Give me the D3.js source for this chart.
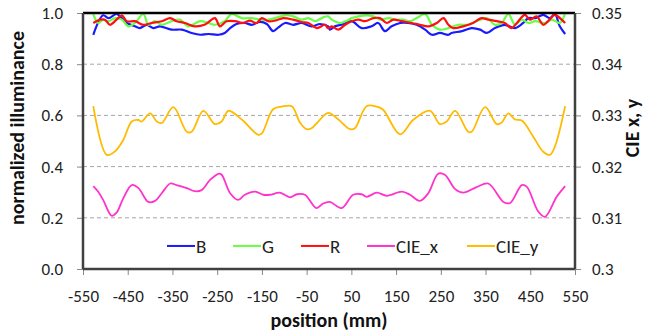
<!DOCTYPE html>
<html>
<head>
<meta charset="utf-8">
<script src="https://cdn.jsdelivr.net/npm/d3@7"></script>
<style>
  body { margin: 0; background: #fff; }
  #chart { width: 652px; height: 332px; }
  text { font-family: Carlito, Lato, 'Open Sans', sans-serif; }
</style>
</head>
<body>
<div id="chart"></div>
<script>
// position (mm) / normalized illuminance
const bPos = [-527, -505, -493, -475, -463, -452, -434, -423, -408, -393, -378, -352, -329, -307, -288, -270, -247, -233, -221, -207, -188, -173, -154, -139, -125, -113, -98, -80, -61, -39, -20, -2, 2, 13, 28, 51, 73, 95, 110, 125, 140, 159, 177, 196, 215, 230, 248, 267, 274, 297, 319, 338, 353, 371, 393, 416, 434, 446, 461, 479, 494, 505, 516, 528];
const bVals = [0.915, 0.991, 0.980, 0.996, 0.980, 0.961, 0.948, 0.941, 0.954, 0.941, 0.948, 0.935, 0.935, 0.922, 0.915, 0.918, 0.915, 0.922, 0.941, 0.957, 0.961, 0.954, 0.965, 0.957, 0.929, 0.944, 0.961, 0.954, 0.961, 0.948, 0.957, 0.948, 0.935, 0.948, 0.954, 0.968, 0.941, 0.948, 0.961, 0.929, 0.948, 0.961, 0.961, 0.954, 0.935, 0.915, 0.922, 0.915, 0.922, 0.929, 0.941, 0.935, 0.922, 0.941, 0.954, 0.941, 0.961, 0.980, 0.980, 0.993, 0.980, 0.996, 0.948, 0.918];

const gPos = [-527, -516, -505, -493, -478, -463, -449, -434, -415, -404, -389, -374, -352, -333, -315, -288, -270, -255, -233, -218, -195, -173, -154, -136, -121, -98, -80, -61, -46, -31, -13, -2, 6, 25, 40, 51, 66, 84, 99, 114, 133, 148, 166, 181, 196, 215, 230, 248, 267, 289, 311, 330, 353, 371, 386, 401, 416, 431, 446, 461, 483, 498, 516, 528];
const gVals = [0.996, 0.961, 0.974, 0.968, 0.980, 0.974, 0.948, 0.961, 0.996, 0.954, 0.968, 0.954, 0.968, 0.974, 0.948, 0.968, 0.961, 0.954, 0.968, 0.996, 0.980, 0.980, 0.974, 0.974, 0.980, 0.991, 0.987, 0.974, 0.980, 0.968, 0.983, 0.987, 0.974, 0.961, 0.970, 0.980, 0.987, 0.991, 0.987, 0.974, 0.980, 0.974, 0.974, 0.968, 0.980, 0.996, 0.954, 0.935, 0.941, 0.954, 0.954, 0.968, 0.980, 0.954, 0.961, 0.996, 0.954, 0.974, 0.961, 0.968, 0.961, 0.974, 0.961, 1.000];

const rPos = [-527, -512, -501, -490, -475, -463, -452, -434, -415, -396, -374, -355, -341, -322, -300, -277, -255, -244, -229, -210, -192, -177, -162, -150, -136, -121, -102, -80, -61, -46, -27, -9, -2, 6, 21, 36, 51, 66, 81, 99, 114, 129, 144, 163, 185, 203, 222, 241, 256, 267, 278, 300, 322, 341, 356, 375, 393, 408, 420, 438, 449, 464, 479, 490, 505, 520, 528];
const rVals = [0.961, 0.974, 0.974, 0.954, 0.974, 0.991, 0.968, 0.968, 0.954, 0.961, 0.968, 0.980, 0.968, 0.961, 0.948, 0.955, 0.980, 0.948, 0.968, 0.968, 0.961, 0.970, 0.961, 0.980, 0.968, 0.970, 0.980, 0.974, 0.965, 0.961, 0.941, 0.954, 0.941, 0.948, 0.935, 0.954, 0.968, 0.974, 0.968, 0.980, 0.980, 0.961, 0.974, 0.968, 0.961, 0.954, 0.948, 0.961, 0.980, 0.954, 0.941, 0.948, 0.961, 0.980, 0.974, 0.968, 0.961, 0.941, 0.961, 0.993, 0.974, 0.987, 0.954, 0.968, 0.993, 0.974, 0.961];

// CIE chromaticity (right axis)
const cxPos = [-527, -516, -505, -486, -475, -460, -441, -426, -404, -389, -374, -355, -341, -318, -300, -285, -266, -247, -240, -221, -203, -188, -165, -147, -132, -110, -87, -72, -54, -28, -13, 2, 28, 54, 73, 84, 107, 129, 163, 181, 203, 222, 244, 259, 282, 300, 330, 356, 390, 405, 431, 442, 468, 483, 509, 528];
const cxVals = [0.3162, 0.3151, 0.3135, 0.3104, 0.3110, 0.3138, 0.3164, 0.3158, 0.3131, 0.3133, 0.3148, 0.3167, 0.3164, 0.3158, 0.3152, 0.3154, 0.3174, 0.3186, 0.3184, 0.3148, 0.3135, 0.3145, 0.3151, 0.3145, 0.3145, 0.3149, 0.3140, 0.3146, 0.3145, 0.3119, 0.3128, 0.3131, 0.3119, 0.3145, 0.3146, 0.3141, 0.3149, 0.3143, 0.3151, 0.3145, 0.3133, 0.3148, 0.3186, 0.3184, 0.3156, 0.3149, 0.3160, 0.3167, 0.3131, 0.3129, 0.3164, 0.3161, 0.3112, 0.3102, 0.3141, 0.3162];

const cyPos = [-527, -497, -478, -460, -441, -426, -419, -400, -385, -374, -348, -318, -307, -281, -255, -240, -225, -195, -158, -150, -125, -106, -83, -65, -50, -39, -24, -2, 21, 47, 58, 84, 107, 121, 159, 188, 226, 248, 263, 282, 311, 319, 349, 375, 386, 401, 416, 431, 457, 479, 494, 505, 528];
const cyVals = [0.3318, 0.3223, 0.3230, 0.3252, 0.3288, 0.3291, 0.3288, 0.3304, 0.3288, 0.3285, 0.3316, 0.3268, 0.3268, 0.3309, 0.3283, 0.3288, 0.3309, 0.3292, 0.3262, 0.3265, 0.3312, 0.3317, 0.3318, 0.3286, 0.3273, 0.3275, 0.3288, 0.3305, 0.3292, 0.3273, 0.3275, 0.3318, 0.3317, 0.3311, 0.3263, 0.3291, 0.3309, 0.3283, 0.3288, 0.3309, 0.3268, 0.3268, 0.3316, 0.3283, 0.3286, 0.3304, 0.3292, 0.3290, 0.3258, 0.3229, 0.3223, 0.3239, 0.3318];

const xTicks = [-550, -450, -350, -250, -150, -50, 50, 150, 250, 350, 450, 550];
const leftTicks = [0, 0.2, 0.4, 0.6, 0.8, 1.0];
const rightTicks = [0.3, 0.31, 0.32, 0.33, 0.34, 0.35];
const legendNames = ['B', 'G', 'R', 'CIE_x', 'CIE_y'];

const seriesColors = {
    B: '#1a1aff',
    G: '#66ff44',
    R: '#ff1010',
    CIE_x: '#ff33cc',
    CIE_y: '#ffbb00'
};

const textSizeInPx = 17;
const titleSizeInPx = 20;
const margin = { top: 13, right: 77, bottom: 63, left: 83 };
const element = document.getElementById('chart');
const width = 652 - margin.left - margin.right;
const height = 332 - margin.top - margin.bottom;

const x = d3.scaleLinear().domain([-550, 550]).range([0, width]);
const yLeft = d3.scaleLinear().domain([0, 1]).range([height, 0]);
const yRight = d3.scaleLinear().domain([0.3, 0.35]).range([height, 0]);

const svg = d3.select(element)
    .append('svg')
    .attr('width', 652)
    .attr('height', 332)
    .append('g')
    .attr('transform', `translate(${margin.left},${margin.top})`);

// dashed gridlines
svg.append('g')
    .selectAll('line')
    .data(leftTicks.filter(t => t > 0 && t < 1))
    .enter()
    .append('line')
    .attr('x1', 0)
    .attr('x2', width)
    .attr('y1', d => yLeft(d))
    .attr('y2', d => yLeft(d))
    .style('stroke', '#a6a6a6')
    .style('stroke-width', '1px')
    .style('stroke-dasharray', '4,3');

// axes
const xAxis = svg.append('g')
    .attr('transform', `translate(0,${height})`)
    .call(d3.axisBottom(x).tickValues(xTicks).tickSize(6).tickPadding(15).tickFormat(d3.format('d')));
xAxis.select('.domain').remove();
xAxis.selectAll('line').style('stroke', '#888');
xAxis.selectAll('text')
    .style('font-size', `${textSizeInPx}px`)
    .style('fill', '#222')
    .text(d => d < 0 ? '-' + Math.abs(d) : d);

const leftAxis = svg.append('g')
    .call(d3.axisLeft(yLeft).tickValues(leftTicks).tickSize(6).tickPadding(14).tickFormat(d3.format('.1f')));
leftAxis.select('.domain').remove();
leftAxis.selectAll('line').style('stroke', '#888');
leftAxis.selectAll('text')
    .style('font-size', `${textSizeInPx}px`)
    .style('fill', '#222');

const rightAxis = svg.append('g')
    .attr('transform', `translate(${width},0)`)
    .call(d3.axisRight(yRight).tickValues(rightTicks).tickSize(6).tickPadding(11).tickFormat(d => d === 0.3 ? '0.3' : d3.format('.2f')(d)));
rightAxis.select('.domain').remove();
rightAxis.selectAll('line').style('stroke', '#888');
rightAxis.selectAll('text')
    .style('font-size', `${textSizeInPx}px`)
    .style('fill', '#222');

// series
const makeLine = (yScale) => d3.line()
    .x(d => x(d[0]))
    .y(d => yScale(d[1]))
    .curve(d3.curveCatmullRom.alpha(0.5));

const zip = (a, b) => a.map((v, i) => [v, b[i]]);

const lines = [
    { name: 'CIE_y', data: zip(cyPos, cyVals), scale: yRight, w: 1.8 },
    { name: 'CIE_x', data: zip(cxPos, cxVals), scale: yRight, w: 1.8 },
    { name: 'B', data: zip(bPos, bVals), scale: yLeft, w: 2.2 },
    { name: 'G', data: zip(gPos, gVals), scale: yLeft, w: 2.2 },
    { name: 'R', data: zip(rPos, rVals), scale: yLeft, w: 2.2 }
];

lines.forEach(s => {
    svg.append('path')
        .datum(s.data)
        .attr('d', makeLine(s.scale))
        .style('fill', 'none')
        .style('stroke', seriesColors[s.name])
        .style('stroke-width', `${s.w}px`)
        .style('stroke-linejoin', 'round');
});

// plot frame
svg.append('line').attr('x1', 0).attr('x2', width).attr('y1', 0).attr('y2', 0)
    .style('stroke', '#000').style('stroke-width', '2.5px');
svg.append('line').attr('x1', 0).attr('x2', width).attr('y1', height).attr('y2', height)
    .style('stroke', '#404040').style('stroke-width', '2.5px');
svg.append('line').attr('x1', 0).attr('x2', 0).attr('y1', 0).attr('y2', height)
    .style('stroke', '#404040').style('stroke-width', '2.5px');
svg.append('line').attr('x1', width).attr('x2', width).attr('y1', 0).attr('y2', height)
    .style('stroke', '#404040').style('stroke-width', '2.5px');

// legend
const legendX = [84, 150, 218, 284, 384];
const legend = svg.append('g').attr('transform', `translate(0,${yLeft(0.09)})`);
legendNames.forEach((name, i) => {
    const item = legend.append('g').attr('transform', `translate(${legendX[i]},0)`);
    item.append('line')
        .attr('x1', 0).attr('x2', 28)
        .style('stroke', seriesColors[name])
        .style('stroke-width', '2px');
    item.append('text')
        .attr('x', 29)
        .attr('dy', '0.36em')
        .style('font-size', '19px')
        .style('fill', '#222')
        .text(name);
});

// axis titles
svg.append('text')
    .attr('x', width / 2)
    .attr('y', height + 58)
    .attr('text-anchor', 'middle')
    .style('font-size', `${titleSizeInPx}px`)
    .style('font-weight', 'bold')
    .style('fill', '#111')
    .text('position (mm)');

svg.append('text')
    .attr('transform', `translate(${-59},${height / 2 - 13}) rotate(-90)`)
    .attr('text-anchor', 'middle')
    .style('font-size', `${titleSizeInPx}px`)
    .style('font-weight', 'bold')
    .style('fill', '#111')
    .text('normalized illuminance');

svg.append('text')
    .attr('transform', `translate(${width + 64},${height / 2 - 13}) rotate(-90)`)
    .attr('text-anchor', 'middle')
    .style('font-size', `${titleSizeInPx}px`)
    .style('font-weight', 'bold')
    .style('fill', '#111')
    .text('CIE x, y');
</script>
</body>
</html>
